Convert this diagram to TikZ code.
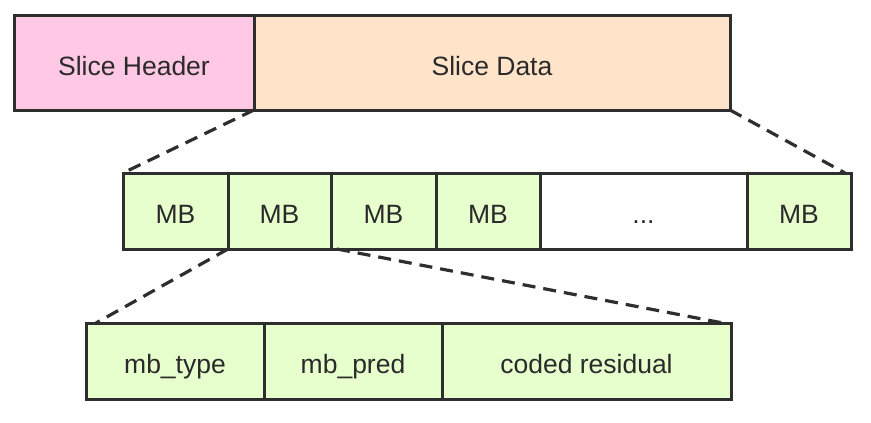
\documentclass[tikz,border=0pt]{standalone}
\usepackage{fontspec}
\setmainfont{Liberation Sans}
\begin{document}
\begin{tikzpicture}[x=1pt,y=-1pt,
  cell/.style={draw=boxline, line width=3pt, inner sep=0pt, outer sep=0pt,
    minimum height=#1, text=txt, text height=25pt, text depth=0pt,
    font=\fontsize{26.5}{30}\selectfont},
  link/.style={draw=boxline, line width=3.2pt, dash pattern=on 13pt off 8pt}]
\definecolor{boxline}{HTML}{2E2E2E}
\definecolor{txt}{HTML}{2A2A2A}
\definecolor{pinkfill}{HTML}{FFC8E4}
\definecolor{peachfill}{HTML}{FFE4CA}
\definecolor{greenfill}{HTML}{E6FFCC}
\useasboundingbox (0,0) rectangle (871,423);
% top row
\node[cell=95pt, fill=pinkfill, minimum width=240pt] (sh) at (134,62.5) {Slice Header};
\node[cell=95pt, fill=peachfill, minimum width=476pt] (sd) at (492,62.5) {Slice Data};
% middle row
\node[cell=76pt, fill=greenfill, minimum width=105pt] (mb1) at (175.5,211) {MB};
\node[cell=76pt, fill=greenfill, minimum width=103pt] (mb2) at (279.5,211) {MB};
\node[cell=76pt, fill=greenfill, minimum width=105pt] (mb3) at (383.5,211) {MB};
\node[cell=76pt, fill=greenfill, minimum width=104pt] (mb4) at (488,211) {MB};
\node[cell=76pt, fill=white, minimum width=207pt] (dots) at (643.5,211) {...};
\node[cell=76pt, fill=greenfill, minimum width=104pt] (mb6) at (799,211) {MB};
% bottom row
\node[cell=76pt, fill=greenfill, minimum width=178pt] (mbt) at (175,361) {mb\_type};
\node[cell=76pt, fill=greenfill, minimum width=178pt] (mbp) at (353,361) {mb\_pred};
\node[cell=76pt, fill=greenfill, minimum width=289pt] (cr) at (586.5,361) {coded residual};
% dashed connectors
\draw[link] (sh.south east) -- (mb1.north west);
\draw[link] (sd.south east) -- ([xshift=-6pt]mb6.north east);
\draw[link] (mb2.south west) -- ([xshift=10pt]mbt.north west);
\draw[link] ([xshift=6pt]mb2.south east) -- ([xshift=-8pt]cr.north east);
\end{tikzpicture}
\end{document}
